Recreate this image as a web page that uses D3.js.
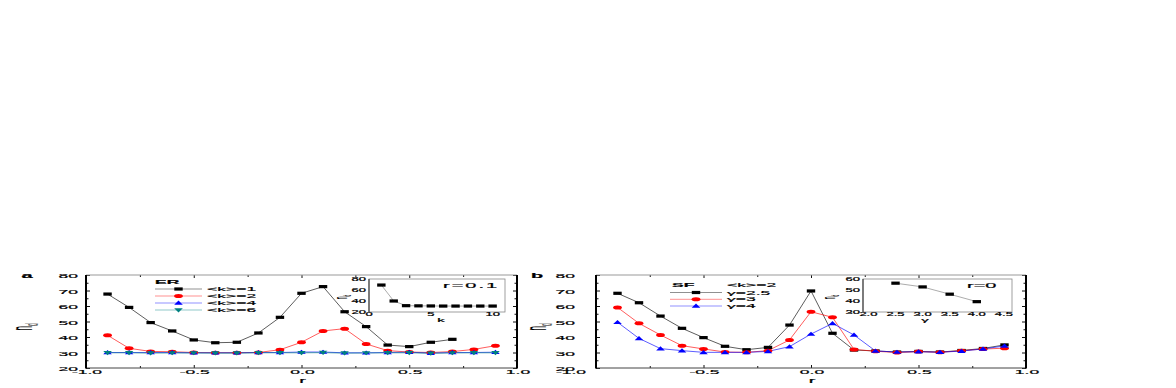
<!DOCTYPE html>
<html>
<head>
<meta charset="utf-8">
<script src="https://cdn.jsdelivr.net/npm/d3@7"></script>
<style>
  body { margin: 0; background: #fff; }
  svg { display: block; }
  text { font-family: "Liberation Sans", Arial, sans-serif; fill: #000; }
</style>
</head>
<body>
<svg id="chart" width="1176" height="388"></svg>
<script>
// ---- data ----
const rValues = [-0.9, -0.8, -0.7, -0.6, -0.5, -0.4, -0.3, -0.2, -0.1, 0.0, 0.1, 0.2, 0.3, 0.4, 0.5, 0.6, 0.7, 0.8, 0.9];

// panel a : ER networks
const erK1 = [67.7, 59.1, 49.3, 43.9, 38.1, 36.3, 36.6, 42.6, 52.7, 68.2, 72.5, 56.3, 46.7, 34.8, 33.8, 36.6, 38.5];
const erK2 = [41.1, 32.7, 30.7, 30.5, 30.0, 29.9, 29.9, 30.0, 31.8, 36.6, 43.9, 45.4, 35.5, 31.2, 30.3, 30.0, 30.6, 32.0, 34.4];
const erK4 = [30.0, 30.0, 30.0, 30.0, 29.8, 29.8, 29.8, 30.0, 30.0, 30.3, 30.3, 29.8, 29.8, 30.0, 30.2, 29.6, 30.0, 30.0, 30.2];
const erK6 = [29.8, 29.8, 29.6, 29.7, 29.7, 29.6, 29.6, 29.8, 29.8, 29.8, 29.9, 29.6, 29.7, 29.8, 29.8, 29.5, 29.7, 29.8, 29.8];

// panel b : SF networks, <k>=2
const sfG25 = [68.2, 62.1, 53.5, 45.6, 39.6, 34.0, 31.8, 33.3, 47.7, 69.7, 42.4, 31.6, 31.0, 30.3, 30.7, 30.3, 31.3, 32.6, 34.9];
const sfG3 = [59.1, 48.8, 41.3, 34.4, 32.3, 30.3, 30.1, 31.2, 38.1, 56.3, 52.7, 32.0, 30.8, 30.0, 30.6, 30.1, 31.2, 32.2, 32.8];
const sfG4 = [49.5, 39.1, 32.5, 31.2, 30.1, 30.1, 30.1, 30.7, 33.8, 41.9, 48.8, 41.3, 31.0, 30.3, 30.5, 30.2, 30.9, 32.3, 34.2];

// insets
const insetK = [1, 2, 3, 4, 5, 6, 7, 8, 9, 10];
const insetKValues = [69.0, 40.0, 31.5, 31.2, 31.0, 30.8, 30.8, 30.8, 30.8, 30.8];
const insetGamma = [2.5, 3.0, 3.5, 4.0];
const insetGammaValues = [56.2, 52.8, 46.2, 39.4];

// ticks
const xTickValues = [-1, -0.5, 0, 0.5, 1];
const xTickLabels = ["-1.0", "-0.5", "0.0", "0.5", "1.0"];
const xMinorTicks = [-0.75, -0.25, 0.25, 0.75];
const yTickValues = [20, 30, 40, 50, 60, 70, 80];
const yMinorTicks = [25, 35, 45, 55, 65, 75];
const insetKTicks = [0, 5, 10];
const insetKTickLabels = ["0", "5", "10"];
const insetKYTicks = [20, 40, 60, 80];
const insetGTicks = [2.0, 2.5, 3.0, 3.5, 4.0, 4.5];
const insetGTickLabels = ["2.0", "2.5", "3.0", "3.5", "4.0", "4.5"];
const insetGYTicks = [30, 40, 50, 60];
const insetGYTickLabels = ["30", "40", "50", "60"];

const svg = d3.select("#chart");

// the figure is strongly stretched horizontally, so text is too
const SX = 2.5, SY = 0.85;
function stretched(g, x, y, str, size, anchor, weight) {
  return g.append("text")
    .attr("transform", `translate(${x},${y}) scale(${SX},${SY})`)
    .attr("text-anchor", anchor || "start")
    .attr("dominant-baseline", "central")
    .style("font-size", size + "px")
    .style("font-weight", weight || "normal")
    .style("stroke", "#000").style("stroke-width", 0.2)
    .text(str);
}

// rotated "n_d" label
function ndLabel(g, x, y, size, sx, sy) {
  const t = g.append("text")
    .attr("transform", `translate(${x},${y}) scale(${sx},${sy}) rotate(-90)`)
    .attr("text-anchor", "middle")
    .style("font-size", size + "px");
  t.append("tspan").text("n");
  t.append("tspan").attr("dy", "0.35em").style("font-size", (size * 0.6) + "px").text("d");
}

function marker(g, type, cx, cy, color) {
  if (type === "square") {
    g.append("rect").attr("x", cx - 4.2).attr("y", cy - 1.6).attr("width", 8.4).attr("height", 3.2).attr("fill", color);
  } else if (type === "circle") {
    g.append("ellipse").attr("cx", cx).attr("cy", cy).attr("rx", 4.4).attr("ry", 2).attr("fill", color);
  } else if (type === "up") {
    g.append("path").attr("d", `M${cx - 4.3},${cy + 1.8}L${cx + 4.3},${cy + 1.8}L${cx},${cy - 2.4}Z`).attr("fill", color);
  } else {
    g.append("path").attr("d", `M${cx - 4.3},${cy - 1.8}L${cx + 4.3},${cy - 1.8}L${cx},${cy + 2.4}Z`).attr("fill", color);
  }
}

function drawPanel(cfg) {
  const g = svg.append("g");
  const top = 275, bottom = 368;
  const x = d3.scaleLinear().domain([-1, 1]).range([cfg.left, cfg.right]);
  const y = d3.scaleLinear().domain([20, 80]).range([bottom, top]);

  // ticks (inward on all four sides)
  const tickAxis = (gen, pos, vals, size) => {
    g.append("g").attr("transform", pos)
      .call(gen.tickValues(vals).tickSize(size).tickSizeOuter(0).tickFormat(""))
      .call(a => a.select(".domain").remove())
      .selectAll("line").attr("stroke", "#111").attr("stroke-width", 1);
  };
  tickAxis(d3.axisBottom(x), `translate(0,${bottom})`, xTickValues, -3);
  tickAxis(d3.axisBottom(x), `translate(0,${bottom})`, xMinorTicks, -2);
  tickAxis(d3.axisTop(x), `translate(0,${top})`, xTickValues, -3);
  tickAxis(d3.axisTop(x), `translate(0,${top})`, xMinorTicks, -2);
  tickAxis(d3.axisLeft(y), `translate(${cfg.left},0)`, yTickValues, -4);
  tickAxis(d3.axisLeft(y), `translate(${cfg.left},0)`, yMinorTicks, -2.5);
  tickAxis(d3.axisRight(y), `translate(${cfg.right},0)`, yTickValues, -4);
  tickAxis(d3.axisRight(y), `translate(${cfg.right},0)`, yMinorTicks, -2.5);

  // frame
  g.append("line").attr("x1", cfg.left).attr("x2", cfg.right).attr("y1", top).attr("y2", top).attr("stroke", "#999").attr("stroke-width", 1);
  g.append("line").attr("x1", cfg.left).attr("x2", cfg.right).attr("y1", bottom).attr("y2", bottom).attr("stroke", "#444").attr("stroke-width", 1);
  g.append("line").attr("x1", cfg.left).attr("x2", cfg.left).attr("y1", top).attr("y2", bottom + 0.5).attr("stroke", "#000").attr("stroke-width", 2);
  g.append("line").attr("x1", cfg.right).attr("x2", cfg.right).attr("y1", top).attr("y2", bottom + 0.5).attr("stroke", "#000").attr("stroke-width", 2);

  // tick labels
  yTickValues.forEach(v => stretched(g, cfg.left + cfg.yLabelDx, y(v) + 1, String(v), 7, "end"));
  xTickValues.forEach((v, i) => stretched(g, x(v) + 1 + (i === 0 ? cfg.firstXLabelDx : 0), 372, xTickLabels[i], 7, "middle"));
  stretched(g, x(0) + 1, 380, "r", 8, "middle");
  ndLabel(g, cfg.ndX, 327, 10, 3, 0.8);
  stretched(g, cfg.letterX, 275, cfg.letter, 8, "middle", "bold");

  // series
  const line = d3.line().x((d, i) => x(rValues[i])).y(d => y(d));
  cfg.series.forEach(s => {
    g.append("path").datum(s.values).attr("d", line).attr("fill", "none")
      .attr("stroke", s.color).attr("stroke-width", 0.8).attr("stroke-opacity", 0.8);
  });
  cfg.series.forEach(s => {
    s.values.forEach((v, i) => marker(g, s.marker, x(rValues[i]), y(v), s.color));
  });

  // legend
  const lg = cfg.legend;
  stretched(g, lg.titleX, lg.titleY, lg.title, 7, "start", "bold");
  if (lg.subtitle) stretched(g, lg.x2 + 5, lg.titleY, lg.subtitle, 7, "start");
  cfg.series.forEach((s, i) => {
    const yy = lg.rows[i];
    g.append("line").attr("x1", lg.x1).attr("x2", lg.x2).attr("y1", yy).attr("y2", yy)
      .attr("stroke", s.color).attr("stroke-width", 0.8).attr("stroke-opacity", 0.55);
    marker(g, s.marker, (lg.x1 + lg.x2) / 2, yy, s.color);
    stretched(g, lg.x2 + 5, yy, s.label, 7, "start");
  });
  return g;
}

const panelA = drawPanel({
  left: 86, right: 517, yLabelDx: -8, firstXLabelDx: 0, ndX: 32, letter: "a", letterX: 27,
  series: [
    { label: "<k>=1", values: erK1, color: "#000", marker: "square" },
    { label: "<k>=2", values: erK2, color: "#ff0000", marker: "circle" },
    { label: "<k>=4", values: erK4, color: "#0000ff", marker: "up" },
    { label: "<k>=6", values: erK6, color: "#008080", marker: "down" }
  ],
  legend: { title: "ER", titleX: 155, titleY: 282, x1: 155, x2: 202, rows: [289, 296, 303, 310] }
});

const panelB = drawPanel({
  left: 596, right: 1026, yLabelDx: -21, firstXLabelDx: -26, ndX: 546, letter: "b", letterX: 537,
  series: [
    { label: "\u03b3=2.5", values: sfG25, color: "#000", marker: "square" },
    { label: "\u03b3=3", values: sfG3, color: "#ff0000", marker: "circle" },
    { label: "\u03b3=4", values: sfG4, color: "#0000ff", marker: "up" }
  ],
  legend: { title: "SF", subtitle: "<k>=2", titleX: 672, titleY: 285, x1: 670, x2: 722, rows: [292.5, 299.3, 306] }
});

// insets
function drawInset(cfg) {
  const g = svg.append("g");
  const x = d3.scaleLinear().domain(cfg.xDomain).range([cfg.left, cfg.right]);
  const y = d3.scaleLinear().domain(cfg.yDomain).range([cfg.bottom, cfg.top]);
  g.append("rect").attr("x", cfg.left).attr("y", cfg.top).attr("width", cfg.right - cfg.left).attr("height", cfg.bottom - cfg.top)
    .attr("fill", "#fff").attr("stroke", "#888").attr("stroke-width", 0.8);
  g.append("line").attr("x1", cfg.left).attr("x2", cfg.left).attr("y1", cfg.top).attr("y2", cfg.bottom).attr("stroke", "#444").attr("stroke-width", 1.2);
  cfg.yTicks.forEach((v, i) => stretched(g, cfg.left - 3, y(v), cfg.yLabels[i], 5.2, "end"));
  cfg.xTicks.forEach((v, i) => stretched(g, x(v), cfg.bottom + 2.8, cfg.xLabels[i], 5.2, "middle"));
  stretched(g, cfg.xTitleX, cfg.bottom + 8, cfg.xTitle, 6, "middle");
  ndLabel(g, cfg.ndX, 297, 7, 2.6, 0.7);
  const line = d3.line().x((d, i) => x(cfg.xs[i])).y(d => y(d));
  g.append("path").datum(cfg.values).attr("d", line).attr("fill", "none").attr("stroke", "#888").attr("stroke-width", 0.7);
  cfg.values.forEach((v, i) => marker(g, "square", x(cfg.xs[i]), y(v), "#000"));
  stretched(g, cfg.noteX, 285.5, cfg.note, 8, "start").style("letter-spacing", cfg.noteSpacing + "px");
}

drawInset({
  left: 369, right: 505, top: 279, bottom: 312, xDomain: [0, 11], yDomain: [20, 80],
  xs: insetK, values: insetKValues, ndX: 347,
  xTicks: insetKTicks, xLabels: insetKTickLabels, yTicks: insetKYTicks, yLabels: insetKYTicks.map(String),
  xTitle: "k", xTitleX: 441, note: "r=0.1", noteX: 443, noteSpacing: 0.8
});

drawInset({
  left: 863, right: 1012, top: 279, bottom: 312, xDomain: [1.9, 4.65], yDomain: [30, 60],
  xs: insetGamma, values: insetGammaValues, ndX: 835,
  xTicks: insetGTicks, xLabels: insetGTickLabels, yTicks: insetGYTicks, yLabels: insetGYTickLabels,
  xTitle: "\u03b3", xTitleX: 925, note: "r=0", noteX: 967, noteSpacing: 0
});
</script>
</body>
</html>
